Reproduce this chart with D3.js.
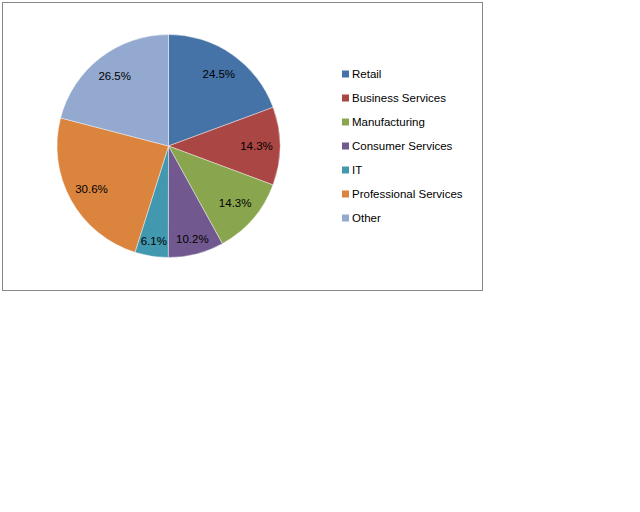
<!DOCTYPE html>
<html>
<head>
<meta charset="utf-8">
<script src="https://cdn.jsdelivr.net/npm/d3@7"></script>
<style>
  body{ margin:0; background:#fff; }
  svg text{ font-family:"Liberation Sans", Arial, sans-serif; font-size:11.5px; fill:#000; }
</style>
</head>
<body>
<svg id="chart" width="640" height="512"></svg>
<script>
const categories = ['Retail','Business Services','Manufacturing','Consumer Services','IT','Professional Services','Other']
const values = [24.5, 14.3, 14.3, 10.2, 6.1, 30.6, 26.5]
const colors = ['#4572A7','#AA4643','#89A54E','#71588F','#4198AF','#DB843D','#93A9CF']

const svg = d3.select('#chart')
const CX = 168.5, CY = 146, R = 111.5

// frame
svg.append('rect').attr('x', 2.5).attr('y', 2.5).attr('width', 480).attr('height', 288)
  .attr('fill', '#fff').attr('stroke', '#878787').attr('stroke-width', 1)

const data = categories.map((c, i) => ({ name: c, value: values[i], color: colors[i] }))
const pie = d3.pie().value(d => d.value).sort(null)
const arcs = pie(data)
const arc = d3.arc().innerRadius(0).outerRadius(R)

const g = svg.append('g').attr('transform', `translate(${CX},${CY})`)
g.selectAll('path.slice').data(arcs).enter().append('path')
  .attr('class', 'slice')
  .attr('d', arc)
  .attr('fill', d => d.data.color)
  .attr('stroke', 'rgba(255,255,255,0.6)').attr('stroke-width', 0.7)

// labels: small slices get pushed out a little (best-fit style)
const labelArc = d => {
  const span = d.endAngle - d.startAngle
  const r = span < 0.6 ? 96 : 88
  return d3.arc().innerRadius(r).outerRadius(r).centroid(d)
}
g.selectAll('text.lbl').data(arcs).enter().append('text')
  .attr('class', 'lbl')
  .attr('x', d => labelArc(d)[0])
  .attr('y', d => labelArc(d)[1])
  .attr('text-anchor', 'middle').attr('dominant-baseline', 'central')
  .text(d => d3.format('.1f')(d.data.value) + '%')

// legend
const ly = d3.scalePoint().domain(categories).range([74, 218])
const lg = svg.append('g').selectAll('g').data(data).enter().append('g')
  .attr('transform', d => `translate(342,${ly(d.name)})`)
lg.append('rect').attr('x', 0).attr('y', -3.5).attr('width', 7).attr('height', 7).attr('fill', d => d.color)
lg.append('text').attr('x', 10).attr('y', 0).attr('dominant-baseline', 'central').text(d => d.name)
</script>
</body>
</html>
